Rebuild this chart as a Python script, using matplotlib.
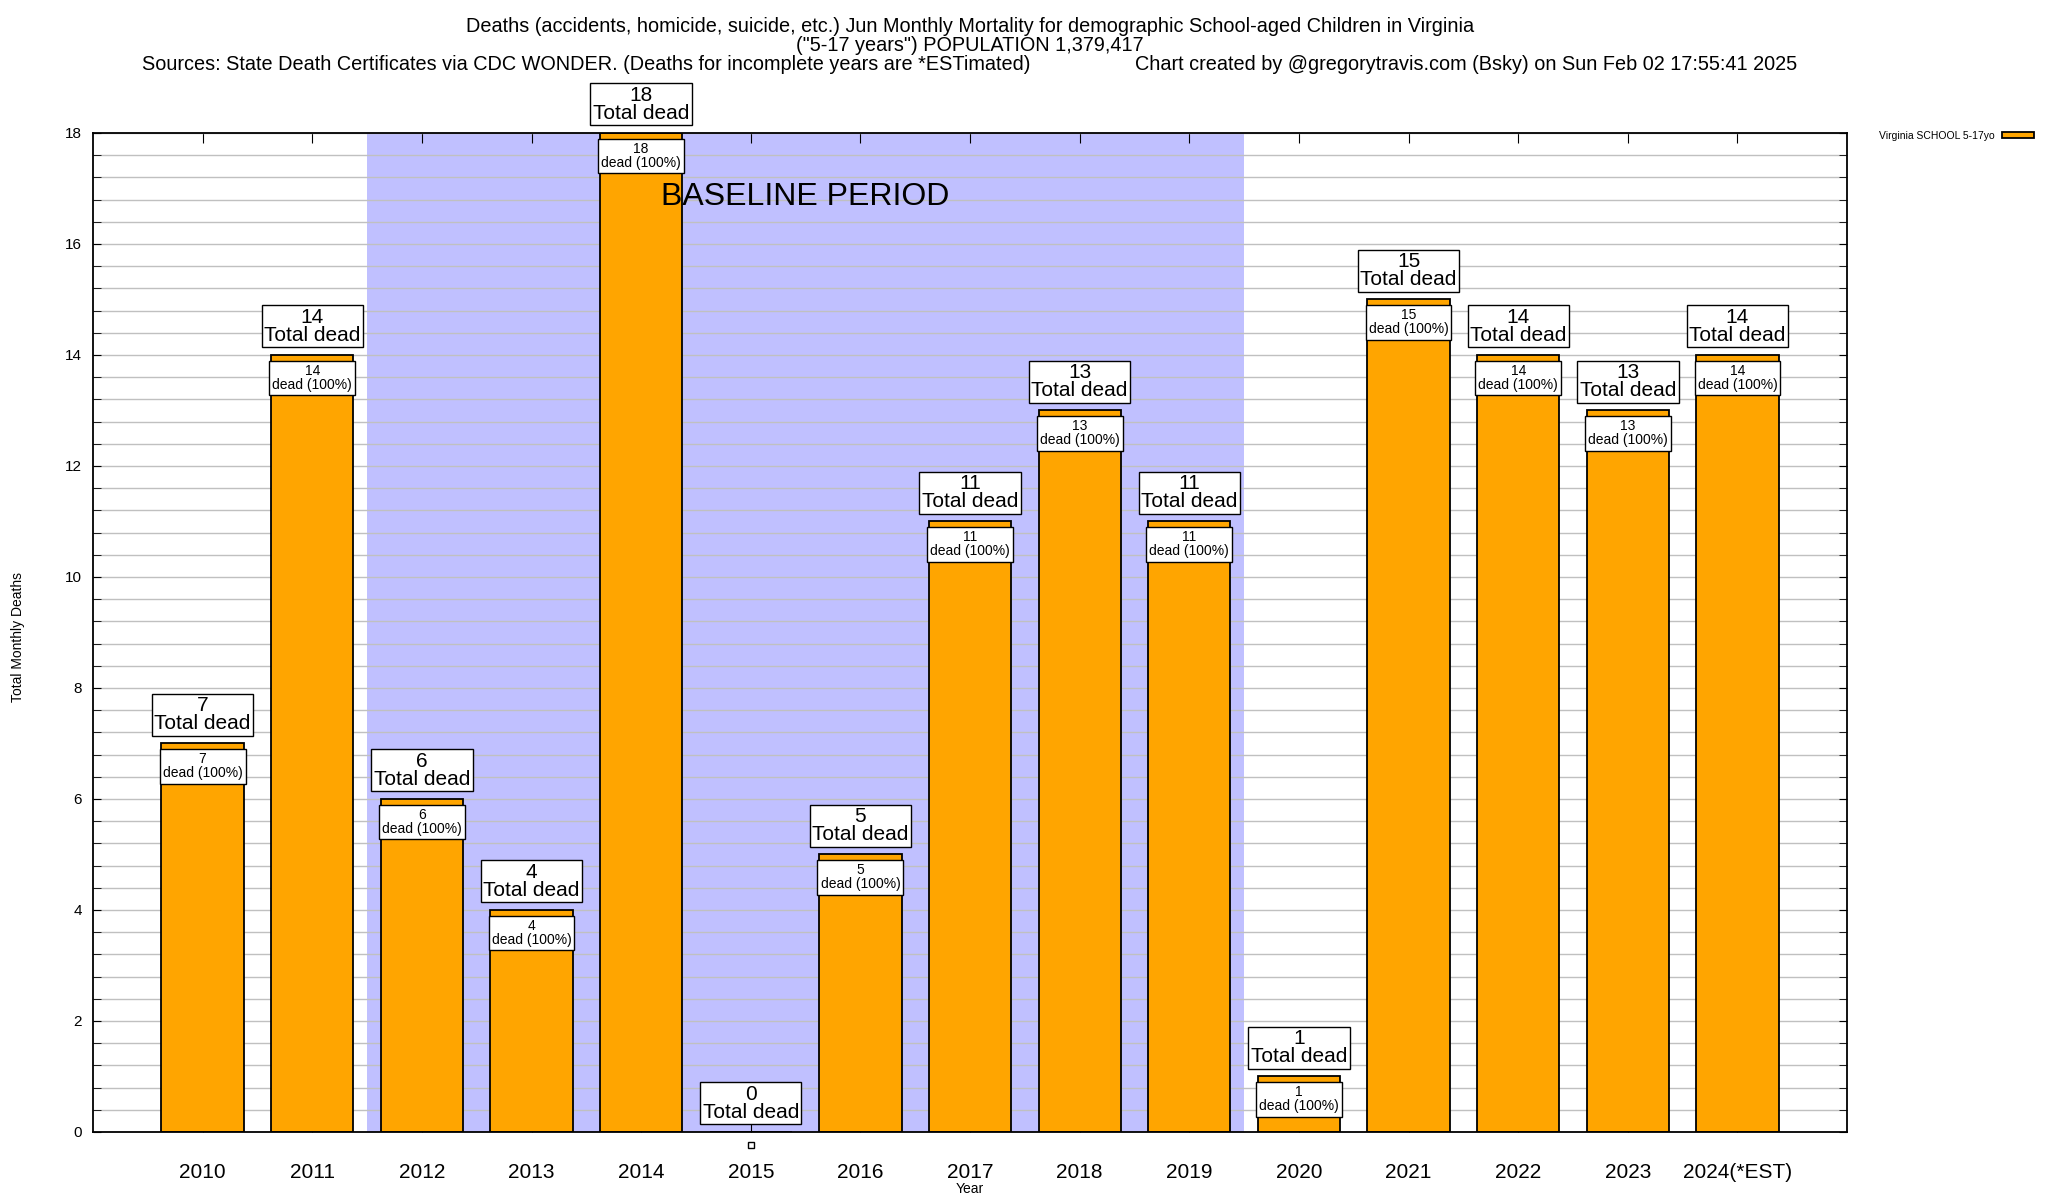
import numpy as np
import matplotlib
matplotlib.use('Agg')
import matplotlib.pyplot as plt
import matplotlib.transforms as mtransforms

plt.rcParams['font.family'] = ['Liberation Sans', 'DejaVu Sans']

#data
years = ['2010', '2011', '2012', '2013', '2014', '2015', '2016', '2017',
         '2018', '2019', '2020', '2021', '2022', '2023', '2024(*EST)']
deaths = [7, 14, 6, 4, 18, 0, 5, 11, 13, 11, 1, 15, 14, 13, 14]
series_name = 'Virginia SCHOOL 5-17yo'
baseline_start = '2012'
baseline_end = '2019'

title1 = 'Deaths (accidents, homicide, suicide, etc.) Jun Monthly Mortality for demographic School-aged Children in Virginia'
title2 = '("5-17 years") POPULATION 1,379,417'
title3 = ('Sources: State Death Certificates via CDC WONDER. (Deaths for incomplete years are *ESTimated)'
          + ' ' * 19 + 'Chart created by @gregorytravis.com (Bsky) on Sun Feb 02 17:55:41 2025')

fig = plt.figure(figsize=(20.48, 12), dpi=100)
ax = fig.add_axes([0.0454, 0.0567, 0.8565, 0.8325])

x = np.arange(len(years))

#baseline shading
b0 = years.index(baseline_start) - 0.5
b1 = years.index(baseline_end) + 0.5
ax.axvspan(b0, b1, color='#c0c0ff', zorder=0.2, lw=0)
ax.text((b0 + b1) / 2, 16.85, 'BASELINE PERIOD', ha='center', va='center', fontsize=23, zorder=4)

bars = ax.bar(x, deaths, width=0.75, color='#ffa500', edgecolor='black', lw=1.3,
              zorder=2, label=series_name)

#labels on bars
for i, v in enumerate(deaths):
    ax.annotate('%d\nTotal dead' % v, (i, v), xytext=(0, 10), textcoords='offset pixels',
                ha='center', va='bottom', fontsize=15, linespacing=0.95, zorder=5,
                bbox=dict(boxstyle='square,pad=0.12', fc='white', ec='black', lw=1))
    if v > 0:
        ax.annotate('%d\ndead (100%%)' % v, (i, v), xytext=(0, -9), textcoords='offset pixels',
                    ha='center', va='top', fontsize=10, linespacing=1.0, zorder=5,
                    bbox=dict(boxstyle='square,pad=0.22', fc='white', ec='black', lw=1))
    else:
        tr = mtransforms.offset_copy(ax.transData, fig=fig, y=-13, units='dots')
        ax.plot(i, v, marker='s', ms=5, mfc='white', mec='black', mew=1,
                transform=tr, clip_on=False, zorder=5)

ax.set_xlim(-1, len(years))
ax.set_ylim(0, 18)
ax.set_xticks(x)
ax.set_xticklabels(years, fontsize=15)
ax.set_yticks(np.arange(0, 19, 2))
ax.set_yticks(np.arange(0, 18.01, 0.4), minor=True)
ax.tick_params(axis='x', direction='in', top=True, length=7, pad=22)
ax.tick_params(axis='y', which='both', direction='in', right=True, length=6, pad=8, labelsize=11)
ax.yaxis.grid(True, which='both', color='#c0c0c0', lw=1, zorder=0.5)
ax.set_axisbelow(True)
for s in ax.spines.values():
    s.set_linewidth(1.3)
    s.set_zorder(6)

ax.set_xlabel('Year', fontsize=10, labelpad=0)
ax.set_ylabel('Total Monthly Deaths', fontsize=10)
ax.yaxis.set_label_coords(-0.039, 0.495)

#titles centred over the axes
cx = 0.0454 + 0.8565 / 2
fig.text(cx, 1 - 27 / 1200, title1, ha='center', va='center', fontsize=14.3)
fig.text(cx, 1 - 45.5 / 1200, title2, ha='center', va='center', fontsize=14.3)
fig.text(cx, 1 - 65 / 1200, title3, ha='center', va='center', fontsize=14.3)

fig.legend(handles=[bars], labels=[series_name], loc='center right',
           bbox_to_anchor=(0.993, 0.887), frameon=False, markerfirst=False,
           fontsize=7.5, handlelength=3, handleheight=0.5, handletextpad=0.7,
           borderpad=0, borderaxespad=0)

fig.savefig('out.png', dpi=100)
